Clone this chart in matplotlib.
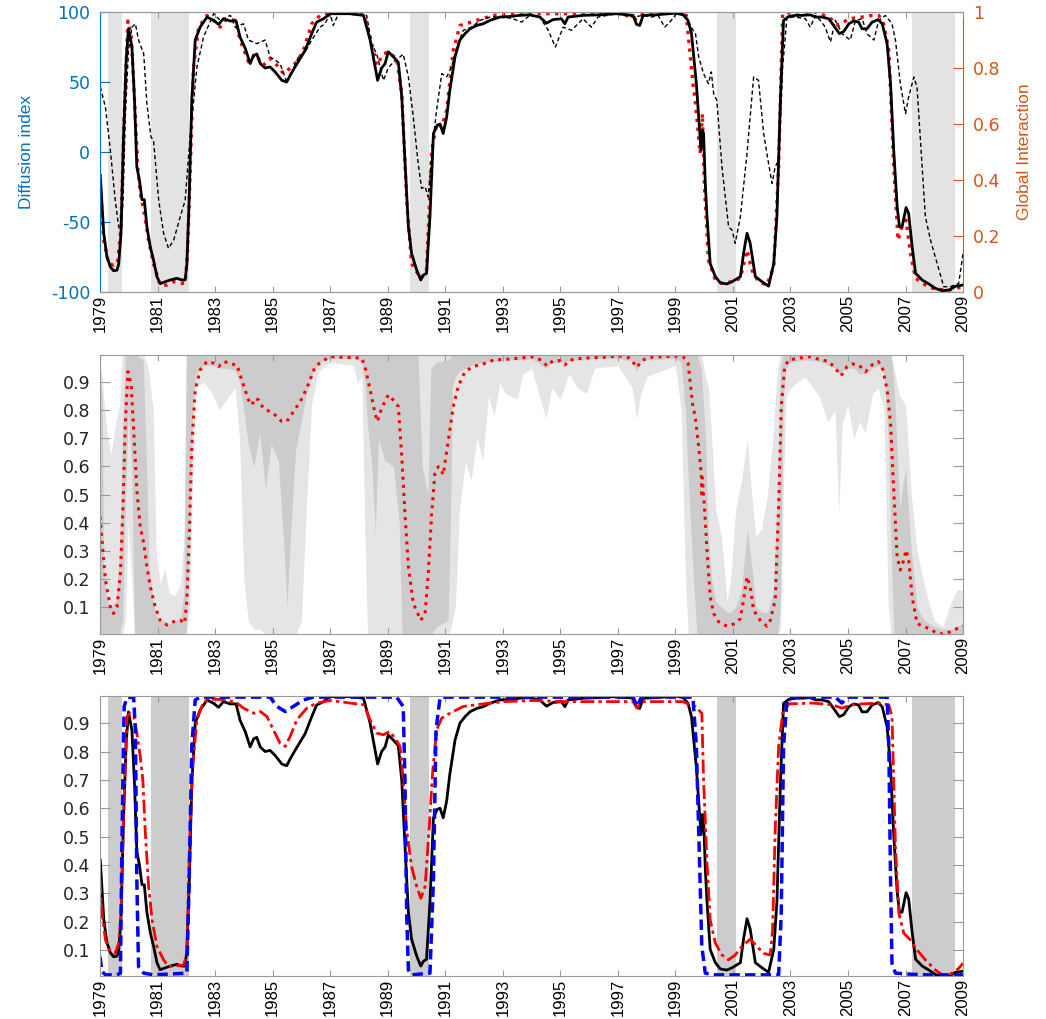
import numpy as np
import matplotlib.pyplot as plt
from matplotlib import font_manager

plt.rcParams['axes.unicode_minus'] = False

# recession bands, in the chart's year axis
rec_start = [1979.28, 1980.77, 1989.78, 2000.45, 2007.21]
rec_end = [1979.76, 1982.09, 1990.44, 2001.12, 2008.72]

# diffusion index (solid black), on a 0-1 scale; top panel shows it as -100..100
black_t = [1979.01, 1979.13, 1979.24, 1979.36, 1979.47, 1979.59, 1979.65, 1979.73, 1979.82, 1979.91,
           1979.99, 1980.11, 1980.20, 1980.28, 1980.37, 1980.46, 1980.54, 1980.63, 1980.75, 1980.86,
           1980.98, 1981.09, 1981.27, 1981.44, 1981.67, 1981.85, 1981.96, 1982.02, 1982.10, 1982.19,
           1982.31, 1982.48, 1982.72, 1982.95, 1983.12, 1983.29, 1983.53, 1983.73, 1983.87, 1984.05,
           1984.22, 1984.34, 1984.45, 1984.57, 1984.74, 1984.91, 1985.09, 1985.32, 1985.49, 1985.61,
           1985.78, 1985.96, 1986.13, 1986.36, 1986.53, 1986.77, 1987.00, 1987.69, 1988.16, 1988.39,
           1988.65, 1988.79, 1988.91, 1989.02, 1989.20, 1989.37, 1989.49, 1989.60, 1989.72, 1989.83,
           1990.01, 1990.15, 1990.24, 1990.35, 1990.47, 1990.59, 1990.72, 1990.82, 1990.93, 1991.05,
           1991.16, 1991.34, 1991.51, 1991.69, 1991.86, 1992.09, 1992.32, 1992.55, 1992.90, 1993.25,
           1993.59, 1993.94, 1994.29, 1994.52, 1994.75, 1995.04, 1995.16, 1995.27, 1995.79, 1996.37,
           1996.95, 1997.53, 1997.65, 1997.76, 1997.88, 1998.34, 1999.00, 1999.27, 1999.44, 1999.56,
           1999.73, 1999.81, 1999.89, 1999.94, 1999.98, 2000.04, 2000.10, 2000.21, 2000.39, 2000.56,
           2000.79, 2000.97, 2001.26, 2001.37, 2001.49, 2001.60, 2001.78, 2002.01, 2002.24, 2002.42,
           2002.53, 2002.65, 2002.76, 2002.94, 2003.17, 2003.40, 2003.69, 2003.87, 2004.10, 2004.33,
           2004.50, 2004.70, 2004.85, 2005.03, 2005.20, 2005.37, 2005.49, 2005.66, 2005.84, 2006.05,
           2006.19, 2006.36, 2006.48, 2006.59, 2006.71, 2006.79, 2006.88, 2007.02, 2007.11, 2007.23,
           2007.35, 2007.58, 2007.81, 2008.04, 2008.27, 2008.51, 2008.74, 2009.00]
black_v = [0.417, 0.21, 0.126, 0.09, 0.076, 0.078, 0.10, 0.21, 0.566, 0.83,
           0.94, 0.875, 0.685, 0.447, 0.40, 0.33, 0.33, 0.233, 0.16, 0.114,
           0.055, 0.03, 0.037, 0.043, 0.049, 0.043, 0.043, 0.10, 0.33, 0.685,
           0.90, 0.946, 0.982, 0.97, 0.956, 0.976, 0.968, 0.968, 0.91, 0.87,
           0.816, 0.845, 0.85, 0.816, 0.80, 0.804, 0.786, 0.756, 0.75, 0.774,
           0.804, 0.834, 0.863, 0.923, 0.964, 0.976, 0.994, 0.994, 0.988, 0.90,
           0.756, 0.80, 0.816, 0.858, 0.84, 0.82, 0.697, 0.47, 0.233, 0.138,
           0.078, 0.043, 0.06, 0.067, 0.27, 0.566, 0.596, 0.60, 0.566, 0.625,
           0.72, 0.84, 0.90, 0.923, 0.94, 0.952, 0.958, 0.97, 0.982, 0.984,
           0.988, 0.99, 0.982, 0.96, 0.973, 0.976, 0.958, 0.982, 0.988, 0.99,
           0.994, 0.988, 0.956, 0.952, 0.988, 0.99, 0.996, 0.99, 0.97, 0.923,
           0.744, 0.625, 0.507, 0.578, 0.566, 0.388, 0.27, 0.102, 0.055, 0.033,
           0.029, 0.037, 0.055, 0.138, 0.21, 0.174, 0.055, 0.037, 0.021, 0.102,
           0.27, 0.685, 0.97, 0.984, 0.988, 0.988, 0.99, 0.982, 0.982, 0.976,
           0.952, 0.923, 0.93, 0.958, 0.968, 0.964, 0.94, 0.94, 0.964, 0.973,
           0.958, 0.887, 0.744, 0.507, 0.304, 0.233, 0.233, 0.302, 0.28, 0.162,
           0.067, 0.043, 0.029, 0.013, 0.005, 0.007, 0.021, 0.025]

# second diffusion index (thin dashed black), 0-1 scale
dash_t = [1979.01, 1979.19, 1979.36, 1979.53, 1979.65, 1979.73, 1979.80, 1979.88, 1979.99, 1980.11,
          1980.23, 1980.34, 1980.52, 1980.63, 1980.77, 1980.86, 1981.04, 1981.21, 1981.38, 1981.56,
          1981.79, 1981.96, 1982.14, 1982.37, 1982.60, 1982.95, 1983.18, 1983.53, 1983.70, 1983.99,
          1984.16, 1984.45, 1984.74, 1984.91, 1985.26, 1985.49, 1985.67, 1985.90, 1986.13, 1986.36,
          1986.65, 1986.82, 1987.00, 1987.11, 1987.29, 1988.27, 1988.44, 1988.62, 1988.85, 1989.02,
          1989.20, 1989.37, 1989.54, 1989.72, 1989.89, 1990.06, 1990.18, 1990.30, 1990.41, 1990.53,
          1990.70, 1990.88, 1991.05, 1991.22, 1991.40, 1991.63, 1991.92, 1992.21, 1992.55, 1993.02,
          1993.36, 1993.65, 1993.94, 1994.29, 1994.58, 1994.83, 1995.10, 1995.39, 1995.79, 1996.08,
          1996.31, 1996.95, 1997.53, 1997.88, 1998.17, 1998.40, 1998.63, 1998.86, 1999.03, 1999.32,
          1999.61, 1999.70, 1999.81, 1999.98, 2000.15, 2000.25, 2000.33, 2000.44, 2000.62, 2000.85,
          2000.97, 2001.08, 2001.26, 2001.49, 2001.72, 2001.89, 2002.07, 2002.18, 2002.36, 2002.47,
          2002.59, 2002.73, 2002.88, 2003.17, 2003.52, 2003.69, 2003.87, 2004.04, 2004.21, 2004.39,
          2004.56, 2004.79, 2005.08, 2005.26, 2005.49, 2005.66, 2005.90, 2006.07, 2006.30, 2006.53,
          2006.65, 2006.82, 2007.00, 2007.11, 2007.29, 2007.40, 2007.69, 2007.87, 2008.10, 2008.33,
          2008.56, 2008.85, 2009.00]
dash_v = [0.732, 0.66, 0.507, 0.328, 0.233, 0.21, 0.328, 0.625, 0.863, 0.946,
          0.958, 0.90, 0.85, 0.673, 0.554, 0.542, 0.328, 0.21, 0.156, 0.185,
          0.269, 0.328, 0.566, 0.804, 0.911, 0.994, 0.97, 0.988, 0.946, 0.958,
          0.90, 0.887, 0.90, 0.84, 0.816, 0.75, 0.786, 0.84, 0.857, 0.90,
          0.946, 0.958, 0.994, 0.952, 0.994, 0.988, 0.887, 0.85, 0.756, 0.80,
          0.822, 0.834, 0.85, 0.768, 0.625, 0.459, 0.37, 0.376, 0.34, 0.495,
          0.649, 0.78, 0.768, 0.804, 0.875, 0.935, 0.946, 0.97, 0.982, 0.982,
          0.976, 0.964, 0.988, 0.982, 0.935, 0.875, 0.946, 0.935, 0.976, 0.946,
          0.982, 0.994, 0.982, 0.988, 0.982, 0.988, 0.946, 0.97, 0.994, 0.994,
          0.935, 0.923, 0.84, 0.78, 0.744, 0.786, 0.709, 0.685, 0.447, 0.233,
          0.221, 0.174, 0.269, 0.495, 0.768, 0.756, 0.566, 0.495, 0.388, 0.447,
          0.471, 0.804, 0.982, 0.982, 0.976, 0.946, 0.988, 0.97, 0.946, 0.893,
          0.97, 0.923, 0.90, 0.97, 0.976, 0.923, 0.90, 0.97, 0.988, 0.958,
          0.90, 0.744, 0.637, 0.697, 0.768, 0.732, 0.269, 0.185, 0.102, 0.019,
          0.019, 0.031, 0.138]

# global interaction, top panel (red dotted)
gi_top_t = [1979.01, 1979.13, 1979.30, 1979.47, 1979.61, 1979.73, 1979.84, 1979.97, 1980.08, 1980.19,
            1980.31, 1980.40, 1980.52, 1980.69, 1980.86, 1981.09, 1981.33, 1981.56, 1981.79, 1981.96,
            1982.04, 1982.14, 1982.25, 1982.43, 1982.72, 1982.95, 1983.18, 1983.41, 1983.70, 1983.87,
            1984.16, 1984.39, 1984.68, 1984.91, 1985.15, 1985.38, 1985.61, 1985.84, 1986.07, 1986.36,
            1986.65, 1987.00, 1988.16, 1988.39, 1988.62, 1988.85, 1989.02, 1989.31, 1989.49, 1989.66,
            1989.83, 1990.15, 1990.35, 1990.53, 1990.70, 1990.88, 1991.05, 1991.28, 1991.51, 1992.09,
            1992.67, 1993.48, 1995.79, 1996.95, 1997.65, 1997.88, 1999.00, 1999.38, 1999.61, 1999.69,
            1999.86, 1999.94, 2000.01, 2000.15, 2000.39, 2000.62, 2000.97, 2001.26, 2001.49, 2001.66,
            2001.89, 2002.18, 2002.42, 2002.59, 2002.73, 2003.17, 2003.87, 2004.33, 2004.68, 2005.03,
            2005.49, 2005.84, 2006.07, 2006.24, 2006.42, 2006.59, 2006.74, 2006.88, 2007.02, 2007.17,
            2007.35, 2007.69, 2008.04, 2008.51, 2008.97]
gi_top_v = [0.376, 0.185, 0.102, 0.096, 0.102, 0.233, 0.625, 0.968, 0.923, 0.709,
            0.447, 0.352, 0.293, 0.185, 0.102, 0.025, 0.025, 0.037, 0.031, 0.031,
            0.138, 0.447, 0.804, 0.946, 0.988, 0.97, 0.946, 0.976, 0.97, 0.90,
            0.822, 0.85, 0.81, 0.834, 0.81, 0.78, 0.80, 0.822, 0.863, 0.958,
            0.988, 1.0, 0.994, 0.911, 0.81, 0.85, 0.857, 0.834, 0.709, 0.328,
            0.102, 0.049, 0.078, 0.507, 0.60, 0.59, 0.65, 0.863, 0.952, 0.97,
            0.988, 0.994, 0.994, 1.0, 0.976, 0.994, 1.0, 0.988, 0.744, 0.685,
            0.495, 0.637, 0.376, 0.114, 0.043, 0.031, 0.037, 0.049, 0.15, 0.078,
            0.037, 0.025, 0.09, 0.447, 0.994, 1.0, 1.0, 0.982, 0.952, 0.976,
            0.982, 0.988, 0.988, 0.958, 0.863, 0.447, 0.185, 0.233, 0.257, 0.138,
            0.049, 0.025, 0.01, 0.007, 0.019]

# global interaction, middle panel median (red dotted)
gi_mid_t = [1979.00, 1979.07, 1979.19, 1979.36, 1979.47, 1979.59, 1979.71, 1979.80, 1979.88, 1979.97,
            1980.08, 1980.19, 1980.28, 1980.40, 1980.52, 1980.63, 1980.75, 1980.92, 1981.09, 1981.33,
            1981.56, 1981.79, 1981.94, 1982.02, 1982.10, 1982.19, 1982.31, 1982.48, 1982.72, 1982.95,
            1983.12, 1983.32, 1983.53, 1983.76, 1983.93, 1984.16, 1984.28, 1984.39, 1984.51, 1984.68,
            1984.80, 1985.03, 1985.32, 1985.49, 1985.72, 1985.96, 1986.19, 1986.48, 1986.71, 1987.00,
            1988.10, 1988.21, 1988.39, 1988.56, 1988.64, 1988.79, 1989.02, 1989.25, 1989.37, 1989.49,
            1989.60, 1989.72, 1989.89, 1990.15, 1990.30, 1990.41, 1990.53, 1990.64, 1990.76, 1990.82,
            1990.93, 1991.11, 1991.28, 1991.45, 1991.69, 1991.97, 1992.32, 1992.67, 1993.13, 1993.59,
            1994.00, 1994.35, 1994.54, 1994.75, 1994.98, 1995.16, 1995.33, 1995.79, 1996.49, 1997.07,
            1997.41, 1997.67, 1997.82, 1998.11, 1998.57, 1999.00, 1999.27, 1999.44, 1999.61, 1999.69,
            1999.81, 1999.90, 1999.92, 1999.94, 2000.01, 2000.10, 2000.21, 2000.33, 2000.50, 2000.68,
            2000.85, 2001.08, 2001.26, 2001.37, 2001.49, 2001.60, 2001.72, 2001.95, 2002.18, 2002.30,
            2002.47, 2002.59, 2002.68, 2002.80, 2002.94, 2003.29, 2003.69, 2003.98, 2004.33, 2004.56,
            2004.76, 2004.97, 2005.14, 2005.37, 2005.61, 2005.84, 2006.05, 2006.19, 2006.36, 2006.48,
            2006.59, 2006.71, 2006.82, 2006.94, 2007.02, 2007.11, 2007.23, 2007.40, 2007.58, 2007.81,
            2008.10, 2008.33, 2008.56, 2008.80, 2009.00]
gi_mid_v = [0.421, 0.338, 0.195, 0.10, 0.076, 0.10, 0.219, 0.457, 0.754, 0.938,
            0.896, 0.694, 0.516, 0.385, 0.326, 0.243, 0.171, 0.10, 0.052, 0.035,
            0.047, 0.052, 0.041, 0.124, 0.338, 0.671, 0.873, 0.944, 0.974, 0.968,
            0.956, 0.974, 0.965, 0.962, 0.908, 0.837, 0.819, 0.843, 0.837, 0.807,
            0.801, 0.789, 0.76, 0.76, 0.795, 0.831, 0.879, 0.956, 0.974, 0.991,
            0.986, 0.956, 0.873, 0.789, 0.76, 0.807, 0.855, 0.831, 0.813, 0.635,
            0.433, 0.243, 0.112, 0.052, 0.076, 0.219, 0.433, 0.575, 0.599, 0.597,
            0.57, 0.694, 0.813, 0.885, 0.938, 0.956, 0.965, 0.979, 0.982, 0.986,
            0.991, 0.979, 0.958, 0.977, 0.977, 0.962, 0.979, 0.986, 0.989, 0.994,
            0.986, 0.953, 0.977, 0.989, 0.991, 0.994, 0.991, 0.968, 0.813, 0.778,
            0.67, 0.575, 0.49, 0.56, 0.457, 0.302, 0.136, 0.076, 0.047, 0.035,
            0.031, 0.041, 0.058, 0.124, 0.207, 0.171, 0.088, 0.052, 0.031, 0.052,
            0.124, 0.457, 0.813, 0.956, 0.979, 0.986, 0.991, 0.982, 0.974, 0.950,
            0.923, 0.956, 0.965, 0.962, 0.938, 0.962, 0.974, 0.956, 0.873, 0.754,
            0.516, 0.278, 0.231, 0.267, 0.302, 0.267, 0.136, 0.041, 0.031, 0.023,
            0.005, 0.003, 0.011, 0.023, 0.031]

# credible bands around the middle-panel median
band_t = [1979.00, 1979.08, 1979.12, 1979.25, 1979.38, 1979.55, 1979.68, 1979.78, 1979.88, 1979.98,
          1980.10, 1980.20, 1980.50, 1980.62, 1980.70, 1980.85, 1980.95, 1981.10, 1981.25, 1981.40,
          1981.60, 1981.80, 1981.92, 1982.00, 1982.12, 1982.22, 1982.32, 1982.60, 1982.90, 1983.15,
          1983.40, 1983.70, 1983.85, 1984.00, 1984.15, 1984.35, 1984.55, 1984.75, 1984.95, 1985.20,
          1985.40, 1985.50, 1985.62, 1985.80, 1986.00, 1986.15, 1986.35, 1986.60, 1987.00, 1987.80,
          1987.95, 1988.10, 1988.20, 1988.30, 1988.45, 1988.57, 1988.68, 1988.90, 1989.20, 1989.40,
          1989.50, 1990.05, 1990.20, 1990.40, 1990.50, 1990.70, 1991.10, 1991.18, 1991.25, 1991.35,
          1991.50, 1991.70, 1991.90, 1992.10, 1992.30, 1992.50, 1992.70, 1992.90, 1993.10, 1993.50,
          1993.70, 1994.00, 1994.50, 1994.70, 1995.00, 1995.30, 1995.60, 1995.90, 1996.20, 1997.00,
          1997.50, 1997.65, 1997.80, 1998.00, 1999.00, 1999.20, 1999.35, 1999.45, 1999.60, 1999.75,
          1999.90, 2000.05, 2000.15, 2000.25, 2000.40, 2000.60, 2000.80, 2000.92, 2001.10, 2001.30,
          2001.50, 2001.65, 2001.80, 2002.00, 2002.20, 2002.40, 2002.55, 2002.65, 2002.75, 2002.85,
          2003.00, 2003.50, 2004.00, 2004.30, 2004.55, 2004.68, 2004.80, 2005.00, 2005.20, 2005.40,
          2005.60, 2005.85, 2006.05, 2006.25, 2006.40, 2006.50, 2006.60, 2006.80, 2007.00, 2007.20,
          2007.40, 2007.60, 2007.80, 2008.00, 2008.30, 2008.60, 2008.80, 2009.00]
outer_lo = [0.00, 0.00, 0.00, 0.00, 0.00, 0.00, 0.00, 0.00, 0.05, 0.40,
            0.20, 0.00, 0.00, 0.00, 0.00, 0.00, 0.00, 0.00, 0.00, 0.00,
            0.00, 0.00, 0.00, 0.00, 0.10, 0.55, 0.88, 0.90, 0.86, 0.80,
            0.84, 0.88, 0.70, 0.20, 0.05, 0.02, 0.02, 0.00, 0.00, 0.00,
            0.00, 0.00, 0.00, 0.00, 0.05, 0.40, 0.82, 0.94, 0.97, 0.96,
            0.90, 0.92, 0.40, 0.00, 0.00, 0.00, 0.00, 0.00, 0.00, 0.00,
            0.00, 0.00, 0.00, 0.00, 0.00, 0.00, 0.00, 0.02, 0.05, 0.10,
            0.45, 0.62, 0.55, 0.70, 0.62, 0.85, 0.78, 0.90, 0.86, 0.84,
            0.93, 0.95, 0.77, 0.88, 0.84, 0.93, 0.88, 0.86, 0.95, 0.96,
            0.88, 0.77, 0.86, 0.92, 0.96, 0.80, 0.20, 0.00, 0.00, 0.00,
            0.00, 0.00, 0.00, 0.00, 0.00, 0.00, 0.00, 0.00, 0.00, 0.00,
            0.00, 0.00, 0.00, 0.00, 0.00, 0.00, 0.00, 0.02, 0.50, 0.85,
            0.88, 0.92, 0.85, 0.76, 0.80, 0.43, 0.75, 0.82, 0.70, 0.76,
            0.72, 0.86, 0.88, 0.80, 0.10, 0.00, 0.00, 0.00, 0.00, 0.00,
            0.00, 0.00, 0.00, 0.00, 0.00, 0.00, 0.00, 0.00]
outer_hi = [0.96, 0.92, 0.85, 0.72, 0.64, 0.76, 0.82, 1.00, 1.00, 1.00,
            1.00, 1.00, 1.00, 0.97, 0.93, 0.80, 0.30, 0.18, 0.24, 0.15,
            0.14, 0.18, 0.35, 1.00, 1.00, 1.00, 1.00, 1.00, 1.00, 1.00,
            1.00, 1.00, 1.00, 1.00, 1.00, 1.00, 1.00, 1.00, 1.00, 1.00,
            1.00, 1.00, 1.00, 1.00, 1.00, 1.00, 1.00, 1.00, 1.00, 1.00,
            1.00, 1.00, 1.00, 1.00, 1.00, 1.00, 1.00, 1.00, 1.00, 1.00,
            1.00, 1.00, 1.00, 1.00, 1.00, 1.00, 1.00, 1.00, 1.00, 1.00,
            1.00, 1.00, 1.00, 1.00, 1.00, 1.00, 1.00, 1.00, 1.00, 1.00,
            1.00, 1.00, 1.00, 1.00, 1.00, 1.00, 1.00, 1.00, 1.00, 1.00,
            1.00, 1.00, 1.00, 1.00, 1.00, 1.00, 1.00, 1.00, 1.00, 1.00,
            1.00, 0.92, 0.88, 0.72, 0.45, 0.35, 0.12, 0.20, 0.45, 0.55,
            0.70, 0.50, 0.35, 0.38, 0.50, 0.72, 0.95, 1.00, 1.00, 1.00,
            1.00, 1.00, 1.00, 1.00, 1.00, 1.00, 1.00, 1.00, 1.00, 1.00,
            1.00, 1.00, 1.00, 1.00, 1.00, 1.00, 0.95, 0.85, 0.82, 0.50,
            0.30, 0.20, 0.12, 0.05, 0.03, 0.12, 0.16, 0.16]
inner_lo = [0.00, 0.00, 0.00, 0.00, 0.00, 0.00, 0.00, 0.05, 0.45, 0.80,
            0.60, 0.00, 0.00, 0.00, 0.00, 0.00, 0.00, 0.00, 0.00, 0.00,
            0.00, 0.00, 0.00, 0.00, 0.35, 0.80, 0.93, 0.96, 0.96, 0.95,
            0.95, 0.94, 0.90, 0.80, 0.68, 0.60, 0.72, 0.52, 0.68, 0.62,
            0.30, 0.10, 0.35, 0.66, 0.76, 0.85, 0.92, 0.97, 0.985, 0.985,
            0.98, 0.97, 0.90, 0.75, 0.60, 0.36, 0.70, 0.62, 0.60, 0.40,
            0.00, 0.00, 0.00, 0.00, 0.00, 0.03, 0.05, 0.40, 0.88, 0.92,
            0.94, 0.95, 0.96, 0.965, 0.97, 0.975, 0.975, 0.975, 0.98, 0.98,
            0.98, 0.985, 0.95, 0.97, 0.97, 0.975, 0.98, 0.98, 0.985, 0.985,
            0.975, 0.94, 0.975, 0.98, 0.985, 0.97, 0.80, 0.55, 0.25, 0.00,
            0.00, 0.00, 0.00, 0.00, 0.00, 0.00, 0.00, 0.00, 0.00, 0.00,
            0.00, 0.00, 0.00, 0.00, 0.00, 0.00, 0.00, 0.10, 0.85, 0.95,
            0.97, 0.98, 0.975, 0.96, 0.95, 0.93, 0.94, 0.95, 0.95, 0.93,
            0.93, 0.95, 0.96, 0.93, 0.70, 0.30, 0.00, 0.00, 0.00, 0.00,
            0.00, 0.00, 0.00, 0.00, 0.00, 0.00, 0.00, 0.00]
inner_hi = [0.92, 0.85, 0.25, 0.12, 0.10, 0.12, 0.30, 0.70, 1.00, 1.00,
            1.00, 1.00, 0.98, 0.60, 0.25, 0.12, 0.07, 0.05, 0.05, 0.04,
            0.05, 0.06, 0.15, 1.00, 1.00, 1.00, 1.00, 1.00, 1.00, 1.00,
            1.00, 1.00, 1.00, 1.00, 1.00, 1.00, 1.00, 1.00, 1.00, 1.00,
            1.00, 1.00, 1.00, 1.00, 1.00, 1.00, 1.00, 1.00, 1.00, 1.00,
            1.00, 1.00, 1.00, 1.00, 1.00, 1.00, 1.00, 1.00, 1.00, 1.00,
            1.00, 1.00, 0.60, 0.50, 0.95, 0.97, 0.98, 0.99, 1.00, 1.00,
            1.00, 1.00, 1.00, 1.00, 1.00, 1.00, 1.00, 1.00, 1.00, 1.00,
            1.00, 1.00, 1.00, 1.00, 1.00, 1.00, 1.00, 1.00, 1.00, 1.00,
            1.00, 1.00, 1.00, 1.00, 1.00, 1.00, 1.00, 1.00, 1.00, 1.00,
            0.95, 0.70, 0.35, 0.20, 0.12, 0.10, 0.08, 0.08, 0.10, 0.16,
            0.38, 0.25, 0.10, 0.08, 0.08, 0.15, 0.50, 0.95, 1.00, 1.00,
            1.00, 1.00, 1.00, 1.00, 1.00, 1.00, 1.00, 1.00, 1.00, 1.00,
            1.00, 1.00, 1.00, 1.00, 1.00, 1.00, 0.90, 0.45, 0.60, 0.30,
            0.10, 0.06, 0.04, 0.03, 0.02, 0.02, 0.03, 0.04]

# bottom panel: smoothed probability (red dash-dot) and regime indicator (blue dashed)
smooth_t = [1979.00, 1979.07, 1979.19, 1979.36, 1979.53, 1979.65, 1979.73, 1979.82, 1979.94, 1980.05,
            1980.17, 1980.28, 1980.40, 1980.49, 1980.57, 1980.69, 1980.81, 1980.98, 1981.21, 1981.38,
            1981.67, 1981.91, 1982.02, 1982.11, 1982.23, 1982.37, 1982.60, 1982.95, 1983.41, 1983.76,
            1983.99, 1984.34, 1984.57, 1984.80, 1985.03, 1985.26, 1985.44, 1985.61, 1985.84, 1986.19,
            1986.53, 1987.00, 1988.16, 1988.39, 1988.62, 1988.85, 1989.08, 1989.25, 1989.43, 1989.54,
            1989.66, 1989.83, 1990.01, 1990.15, 1990.30, 1990.44, 1990.56, 1990.70, 1990.88, 1991.16,
            1991.63, 1992.32, 1993.02, 1994.06, 1995.22, 1997.53, 1997.67, 1997.82, 1999.27, 1999.61,
            1999.69, 1999.92, 1999.98, 2000.10, 2000.21, 2000.39, 2000.62, 2000.85, 2001.08, 2001.31,
            2001.60, 2001.84, 2002.07, 2002.30, 2002.38, 2002.47, 2002.59, 2002.73, 2002.94, 2003.75,
            2004.45, 2004.79, 2005.14, 2005.49, 2006.07, 2006.42, 2006.53, 2006.65, 2006.77, 2006.94,
            2007.17, 2007.35, 2007.69, 2008.04, 2008.33, 2008.62, 2008.85, 2009.00]
smooth_v = [0.347, 0.229, 0.135, 0.094, 0.088, 0.124, 0.229, 0.582, 0.924, 0.935,
            0.924, 0.865, 0.782, 0.70, 0.524, 0.324, 0.206, 0.112, 0.065, 0.041,
            0.044, 0.047, 0.088, 0.465, 0.759, 0.912, 0.976, 0.985, 0.982, 0.971,
            0.953, 0.935, 0.941, 0.924, 0.876, 0.829, 0.818, 0.853, 0.912, 0.953,
            0.971, 0.98, 0.965, 0.912, 0.865, 0.859, 0.871, 0.847, 0.818, 0.70,
            0.524, 0.394, 0.324, 0.282, 0.324, 0.524, 0.724, 0.876, 0.918, 0.935,
            0.959, 0.968, 0.976, 0.98, 0.976, 0.976, 0.953, 0.976, 0.976, 0.959,
            0.959, 0.935, 0.70, 0.406, 0.206, 0.124, 0.082, 0.065, 0.082, 0.112,
            0.138, 0.112, 0.088, 0.082, 0.171, 0.524, 0.818, 0.935, 0.968, 0.971,
            0.965, 0.953, 0.965, 0.968, 0.971, 0.965, 0.924, 0.465, 0.229, 0.159,
            0.135, 0.106, 0.065, 0.029, 0.008, 0.018, 0.035, 0.053]

regime_t = [1979.00, 1979.07, 1979.19, 1979.59, 1979.71, 1979.76, 1979.84, 1979.94, 1980.17, 1980.23,
            1980.28, 1980.34, 1980.52, 1980.86, 1982.02, 1982.10, 1982.19, 1982.31, 1982.48, 1984.91,
            1985.15, 1985.44, 1985.72, 1986.07, 1986.42, 1989.31, 1989.54, 1989.60, 1989.66, 1989.72,
            1989.83, 1990.47, 1990.59, 1990.68, 1990.82, 1991.05, 1997.53, 1997.67, 1997.82, 1999.61,
            1999.73, 1999.81, 1999.92, 2000.04, 2000.39, 2002.59, 2002.68, 2002.76, 2002.88, 2003.05,
            2004.56, 2004.79, 2004.97, 2006.36, 2006.42, 2006.48, 2006.53, 2006.65, 2007.23, 2007.81,
            2009.00]
regime_v = [0.076, 0.024, 0.012, 0.012, 0.018, 0.465, 0.959, 0.991, 0.991, 0.876,
            0.347, 0.041, 0.018, 0.012, 0.018, 0.347, 0.818, 0.982, 0.992, 0.992,
            0.959, 0.941, 0.959, 0.982, 0.992, 0.992, 0.959, 0.70, 0.229, 0.029,
            0.012, 0.018, 0.347, 0.876, 0.991, 0.992, 0.992, 0.959, 0.992, 0.992,
            0.818, 0.524, 0.112, 0.018, 0.012, 0.012, 0.229, 0.818, 0.982, 0.992,
            0.992, 0.971, 0.992, 0.992, 0.818, 0.347, 0.053, 0.018, 0.014, 0.012,
            0.012]

years = list(range(1979, 2010, 2))
di_ticks = [-100, -50, 0, 50, 100]
gi_ticks = [0, 0.2, 0.4, 0.6, 0.8, 1]
prob_ticks = [0.1, 0.2, 0.3, 0.4, 0.5, 0.6, 0.7, 0.8, 0.9]

BLUE = '#0072BD'
ORANGE = '#D95319'
TICKCOL = '#262626'
SPINE = '#9a9a9a'

# narrow face for the rotated labels if it is there, else plain Liberation Sans a bit smaller
try:
    font_manager.findfont('Liberation Sans Narrow', fallback_to_default=False)
    NARROW = ['Liberation Sans Narrow', 'DejaVu Sans']
    xlab_size, ylab_size = 14, 15
except ValueError:
    NARROW = ['Liberation Sans', 'DejaVu Sans']
    xlab_size, ylab_size = 12, 12.5

fig = plt.figure(figsize=(10.46, 10.19), dpi=100)
left, width = 0.0956, 0.8251
ax1 = fig.add_axes([left, 0.7134, width, 0.2748])
ax_mid = fig.add_axes([left, 0.3778, width, 0.2738])
ax_bot = fig.add_axes([left, 0.0422, width, 0.2748])


def style_xaxis(ax):
    ax.set_xlim(1979, 2009)
    ax.set_xticks(years)
    ax.set_xticklabels([str(y) for y in years], rotation=90, fontsize=xlab_size,
                       family=NARROW, color='black', va='top', ha='center')
    ax.tick_params(axis='x', direction='in', length=4, top=True, bottom=True,
                   pad=2, color=SPINE)


# ---------- top panel ----------
ax2 = ax1.twinx()
ax1.set_zorder(2)
ax1.patch.set_visible(False)
ax2.set_zorder(1)
ax2.patch.set_visible(True)
ax2.patch.set_facecolor('white')

for s, e in zip(rec_start, rec_end):
    ax2.axvspan(s, e, color='#e3e3e3', lw=0)
ax2.plot(gi_top_t, gi_top_v, color='red', ls=':', lw=2.4)
ax2.set_ylim(0, 1)
ax2.set_yticks(gi_ticks)
ax2.set_yticklabels(['0', '0.2', '0.4', '0.6', '0.8', '1'])

di_black = [200 * v - 100 for v in black_v]
di_dash = [200 * v - 100 for v in dash_v]
ax1.plot(dash_t, di_dash, color='black', lw=1.0, ls=(0, (3, 2)))
ax1.plot(black_t, di_black, color='black', lw=2.0)
ax1.set_ylim(-100, 100)
ax1.set_yticks(di_ticks)
style_xaxis(ax1)
ax2.set_xlim(1979, 2009)

ax1.tick_params(axis='y', direction='in', length=7, colors=BLUE, labelsize=12.5, pad=7)
ax2.tick_params(axis='y', direction='in', length=7, colors=ORANGE, labelsize=12.5, pad=7)
ax1.set_ylabel('Diffusion index', color=BLUE, fontsize=ylab_size, family=NARROW)
ax1.yaxis.set_label_coords(-0.077, 0.5)
ax2.set_ylabel('Global Interaction', color=ORANGE, fontsize=ylab_size, family=NARROW)
ax2.yaxis.set_label_coords(1.063, 0.5)

ax1.spines['right'].set_visible(False)
ax1.spines['left'].set_color(BLUE)
ax1.spines['top'].set_color(SPINE)
ax1.spines['bottom'].set_color(SPINE)
ax2.spines['left'].set_visible(False)
ax2.spines['right'].set_color(ORANGE)
ax2.spines['top'].set_color(SPINE)
ax2.spines['bottom'].set_color(SPINE)

# ---------- middle panel ----------
ax_mid.fill_between(band_t, outer_lo, outer_hi, color='#e5e5e5', lw=0)
ax_mid.fill_between(band_t, inner_lo, inner_hi, color='#cccccc', lw=0)
ax_mid.plot(gi_mid_t, gi_mid_v, color='red', ls=':', lw=2.2)
ax_mid.set_ylim(0.003, 0.997)

# ---------- bottom panel ----------
for s, e in zip(rec_start, rec_end):
    ax_bot.axvspan(s, e, color='#cccccc', lw=0)
ax_bot.plot(black_t, black_v, color='black', lw=2.0)
ax_bot.plot(smooth_t, smooth_v, color='red', lw=2.0, ls=(0, (5, 1.5, 1.2, 1.5)))
ax_bot.plot(regime_t, regime_v, color='blue', lw=2.5, ls=(0, (3, 1.5)))
ax_bot.set_ylim(0.008, 0.996)

for ax in (ax_mid, ax_bot):
    style_xaxis(ax)
    ax.set_yticks(prob_ticks)
    ax.set_yticklabels(['%.1f' % v for v in prob_ticks])
    ax.tick_params(axis='y', direction='in', length=7, left=True, right=True,
                   labelsize=12.5, labelcolor=TICKCOL, color=SPINE, pad=7)
    for sp in ax.spines.values():
        sp.set_color(SPINE)

fig.savefig('out.png', dpi=100, facecolor='white')
